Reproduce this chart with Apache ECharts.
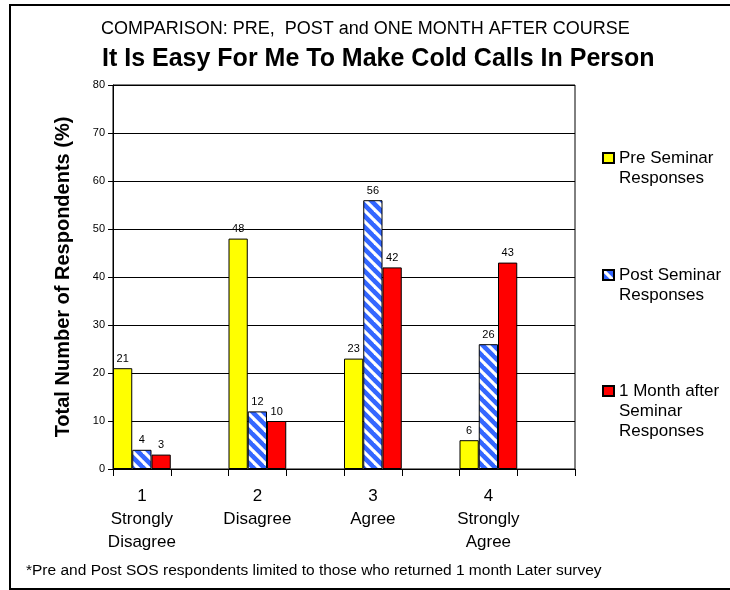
<!DOCTYPE html>
<html>
<head>
<meta charset="utf-8">
<script src="https://cdn.jsdelivr.net/npm/echarts@6/dist/echarts.min.js"></script>
<style>
  html, body { margin: 0; padding: 0; background: #fff; }
  #chart { width: 730px; height: 590px; }
</style>
</head>
<body>
<div id="chart"></div>
<script>
// Survey answers on the category axis
const categories = ['1\nStrongly\nDisagree', '2\nDisagree', '3\nAgree', '4\nStrongly\nAgree'];

// Percentage of respondents per answer
const preSeminar = [21, 48, 23, 6];
const postSeminar = [4, 12, 56, 26];
const monthAfter = [3, 10, 42, 43];

const seriesNames = ['Pre Seminar Responses', 'Post Seminar Responses', '1 Month after Seminar Responses'];
const legendLabels = ['Pre Seminar\nResponses', 'Post Seminar\nResponses', '1 Month after\nSeminar\nResponses'];

const yTicks = { min: 0, max: 80, step: 10 };

// Each answer gets a slot for its bars followed by an empty spacer slot
const axisData = [];
const spread = (vals) => {
  const out = [];
  vals.forEach(v => { out.push(v); out.push('-'); });
  return out;
};
categories.forEach((c, i) => { axisData.push(c); axisData.push('spacer' + i); });

// Blue fill with white diagonal stripes
function stripePattern() {
  const size = 11;
  const cv = document.createElement('canvas');
  cv.width = size; cv.height = size;
  const ctx = cv.getContext('2d');
  ctx.fillStyle = '#3366FF';
  ctx.fillRect(0, 0, size, size);
  ctx.strokeStyle = '#FFFFFF';
  ctx.lineWidth = 3.2;
  for (let k = -1; k <= 1; k++) {
    ctx.beginPath();
    ctx.moveTo(-2, -2 + k * size);
    ctx.lineTo(size + 2, size + 2 + k * size);
    ctx.stroke();
  }
  return cv;
}

const FONT = 'Liberation Sans, Arial, sans-serif';
const chart = echarts.init(document.getElementById('chart'), null, { renderer: 'canvas' });

const barSeries = (name, vals, color) => ({
  name: name,
  type: 'bar',
  data: spread(vals),
  barCategoryGap: '0%',
  barGap: '0%',
  itemStyle: { color: color, borderColor: '#000', borderWidth: 1 },
  label: {
    show: true,
    position: 'top',
    distance: 4,
    color: '#000',
    fontSize: 11,
    fontFamily: FONT
  },
  emphasis: { disabled: true }
});

const legendTops = [128, 245, 341];
const legends = seriesNames.map((n, i) => ({
  data: [n],
  orient: 'vertical',
  left: 602,
  top: legendTops[i],
  padding: 0,
  itemWidth: 11,
  itemHeight: 10,
  icon: 'rect',
  selectedMode: false,
  formatter: () => '\n'.repeat(legendLabels[i].split('\n').length - 1) + legendLabels[i],
  textStyle: { fontSize: 17, lineHeight: 20, color: '#000', fontFamily: FONT }
}));

chart.setOption({
  backgroundColor: '#fff',
  animation: false,
  title: [
    {
      text: 'COMPARISON: PRE,  POST and ONE MONTH AFTER COURSE',
      left: 96, top: 15,
      textStyle: { fontSize: 18, fontWeight: 'normal', color: '#000', fontFamily: FONT }
    },
    {
      text: 'It Is Easy For Me To Make Cold Calls In Person',
      left: 97, top: 42,
      textStyle: { fontSize: 25, fontWeight: 'bold', color: '#000', fontFamily: FONT }
    }
  ],
  legend: legends,
  grid: {
    left: 113, right: 155, top: 85, bottom: 121,
    show: true, borderColor: '#000', borderWidth: 1, backgroundColor: '#fff'
  },
  xAxis: {
    type: 'category',
    data: axisData,
    boundaryGap: true,
    axisLine: { lineStyle: { color: '#000', width: 1 } },
    axisTick: { show: true, interval: 0, length: 7, lineStyle: { color: '#000' } },
    axisLabel: {
      interval: 1,
      margin: 16,
      color: '#000',
      fontSize: 17,
      lineHeight: 23,
      fontFamily: FONT
    }
  },
  yAxis: {
    type: 'value',
    min: yTicks.min, max: yTicks.max, interval: yTicks.step,
    name: 'Total Number of Respondents (%)',
    nameLocation: 'middle',
    nameGap: 40,
    nameTextStyle: { fontSize: 20, fontWeight: 'bold', color: '#000', fontFamily: FONT },
    axisLine: { show: true, lineStyle: { color: '#000', width: 1 } },
    axisTick: { show: true, length: 5, lineStyle: { color: '#000' } },
    axisLabel: { color: '#000', fontSize: 11, margin: 8, fontFamily: FONT },
    splitLine: { show: true, lineStyle: { color: '#000', width: 1 } }
  },
  series: [
    barSeries(seriesNames[0], preSeminar, '#FFFF00'),
    barSeries(seriesNames[1], postSeminar, { image: stripePattern(), repeat: 'repeat' }),
    barSeries(seriesNames[2], monthAfter, '#FF0000')
  ],
  graphic: [
    {
      type: 'text',
      left: 26, top: 563,
      style: {
        text: '*Pre and Post SOS respondents limited to those who returned 1 month Later survey',
        fontSize: 15.5, fill: '#000', fontFamily: FONT
      }
    },
    {
      type: 'rect',
      shape: { x: 10, y: 5, width: 724, height: 584 },
      style: { fill: 'none', stroke: '#000', lineWidth: 2 },
      silent: true
    }
  ]
});
</script>
</body>
</html>
